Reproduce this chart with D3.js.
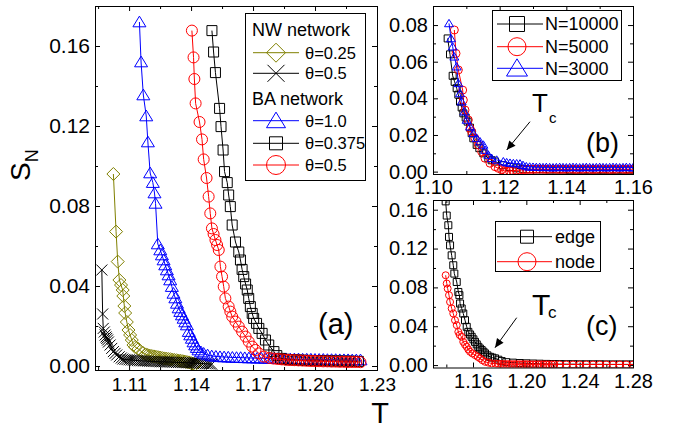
<!DOCTYPE html>
<html><head><meta charset="utf-8">
<script src="https://cdn.jsdelivr.net/npm/d3@7"></script>
<style>
body{margin:0;background:#fff}
svg text{font-family:Arial,"Liberation Sans",Helvetica,sans-serif;fill:#000}
</style>
</head><body>
<svg id="chart" width="673" height="428"></svg>
<script>
// ---------------- DATA ----------------
// Panel (a): NW network
const nw25T = [1.1024,1.1037,1.1045,1.1053,1.1061,1.1069,1.1072,1.1077,1.1081,1.1089,1.1097,1.1105,1.1113,1.1121,1.1129,1.1145,1.1168,1.118,1.119,1.120,1.121,1.122,1.123,1.124,1.125,1.126,1.127,1.128,1.129,1.130,1.131,1.132,1.133,1.134,1.135,1.136,1.137,1.138,1.139,1.140,1.141,1.142];
const nw25S = [0.096,0.0672,0.0522,0.043,0.0405,0.038,0.035,0.030,0.0265,0.022,0.018,0.0155,0.013,0.0105,0.0095,0.0085,0.0065,0.0058,0.0055,0.0052,0.0050,0.0048,0.0046,0.0044,0.0042,0.0040,0.0038,0.0037,0.0035,0.0034,0.0032,0.0030,0.0029,0.0027,0.0026,0.0024,0.0022,0.0020,0.0018,0.0015,0.0012,0.0008];
const nw50T = [1.0968,1.0972,1.0975,1.0980,1.0984,1.0988,1.0992,1.0996,1.1000,1.1008,1.1016,1.1024,1.1032,1.1040,1.1052,1.1062,
  1.107,1.108,1.109,1.110,1.111,1.112,1.113,1.114,1.115,1.116,1.117,1.118,1.119,1.120,1.121,1.122,1.123,1.124,1.125,1.126,1.127,1.128,1.129,1.130,1.131,1.132,1.133,1.134,1.135,1.136,1.137,1.138,1.139,1.140,1.141,1.142,1.143,1.144,1.145,1.146,1.147,1.148,1.149,1.150];
const nw50S = [0.048,0.026,0.0188,0.017,0.0155,0.0145,0.0138,0.013,0.012,0.0105,0.0088,0.0072,0.0063,0.0055,0.0046,0.0040,
  0.0035,0.0033,0.0032,0.0031,0.0030,0.0029,0.0028,0.0027,0.0026,0.0026,0.0025,0.0025,0.0024,0.0024,0.0023,0.0023,0.0022,0.0022,0.0021,0.0021,0.0021,0.0020,0.0020,0.0020,0.0019,0.0019,0.0018,0.0018,0.0018,0.0017,0.0017,0.0016,0.0016,0.0015,0.0015,0.0014,0.0014,0.0013,0.0013,0.0012,0.0011,0.0011,0.0010,0.0009];
// Panel (a): BA network
const ba10T = [1.1150,1.1158,1.1169,1.1183,1.1191,1.1202,1.1215,1.1223,1.1228,1.1239,1.1251,1.1259,1.1267,1.1275,1.1283,1.1291,1.1299,1.1307,1.1315,1.1324,1.1332,1.1340,1.1348,1.1356,1.1364,1.1372,1.1380,1.1389,1.1396,1.1404,1.1412,1.1420,1.1428,1.1436,1.1448,1.1461,
  1.148,1.150,1.152,1.154,1.156,1.158,1.160,1.162,1.164,1.166,1.168,1.170,1.172,1.174,1.176,1.178,1.180,1.182,1.184,1.186,1.188,1.190,1.192,1.194,1.196,1.198,1.200,1.202,1.204,1.206,1.208,1.210,1.212,1.214,1.216,1.218,1.220,1.222];
const ba10S = [0.172,0.152,0.1355,0.125,0.112,0.0965,0.0917,0.0865,0.0813,0.061,0.058,0.0555,0.053,0.0505,0.048,0.0455,0.043,0.0397,0.0363,0.034,0.0313,0.029,0.0272,0.0255,0.0238,0.022,0.0205,0.0172,0.0155,0.0138,0.012,0.0105,0.0092,0.008,0.007,0.0063,
  0.0055,0.0050,0.0048,0.0046,0.0045,0.0044,0.0043,0.0042,0.0042,0.0041,0.0040,0.0040,0.0039,0.0039,0.0038,0.0038,0.0037,0.0037,0.0036,0.0036,0.0035,0.0035,0.0035,0.0034,0.0034,0.0034,0.0033,0.0033,0.0033,0.0032,0.0032,0.0032,0.0031,0.0031,0.0031,0.0030,0.0030,0.0030];
const ba375T = [1.1501,1.1509,1.1518,1.1538,1.1545,1.1555,1.1562,1.1575,1.1582,1.1590,1.1599,1.1615,1.1631,1.1639,1.1647,1.1655,1.1664,1.1672,1.1679,1.1687,1.1696,1.1703,1.1717,1.1728,1.1744,1.1760,1.1776,1.1801,1.1815,1.1833,
  1.185,1.187,1.189,1.191,1.193,1.195,1.197,1.199,1.201,1.203,1.205,1.207,1.209,1.211,1.213,1.215,1.217,1.219,1.221];
const ba375S = [0.1677,0.157,0.1467,0.1288,0.1197,0.108,0.0972,0.0917,0.0855,0.0797,0.0705,0.062,0.057,0.053,0.0483,0.0447,0.041,0.038,0.0338,0.0297,0.0263,0.0238,0.0213,0.0188,0.0163,0.013,0.0105,0.0072,0.0052,0.0038,
  0.0034,0.0032,0.0031,0.0030,0.0029,0.0028,0.0028,0.0027,0.0027,0.0026,0.0026,0.0025,0.0025,0.0025,0.0024,0.0024,0.0024,0.0023,0.0023];
const ba50T = [1.1404,1.1412,1.1416,1.1422,1.1441,1.1453,1.1461,1.1475,1.1485,1.1493,1.1501,1.1509,1.1518,1.1526,1.1534,1.1542,1.1550,1.1558,1.1566,1.1582,1.1590,1.1599,1.1615,1.1631,1.1647,1.1664,1.1679,1.1696,1.1712,1.1728,1.1752,
  1.178,1.180,1.182,1.184,1.186,1.188,1.190,1.192,1.194,1.196,1.198,1.200,1.202,1.204,1.206,1.208,1.210,1.212,1.214,1.216,1.218,1.220,1.222];
const ba50S = [0.1677,0.1543,0.1435,0.1313,0.122,0.1133,0.1033,0.094,0.0847,0.0763,0.0688,0.066,0.063,0.0605,0.058,0.0497,0.0447,0.0397,0.0338,0.0297,0.0272,0.0247,0.0222,0.0197,0.0172,0.0147,0.0122,0.0097,0.008,0.0063,0.0047,
  0.0040,0.0037,0.0035,0.0033,0.0031,0.0030,0.0029,0.0028,0.0027,0.0026,0.0025,0.0025,0.0024,0.0023,0.0023,0.0022,0.0022,0.0021,0.0021,0.0020,0.0020,0.0020,0.0019];

// Panel (b): system sizes
const n10000T = [1.1044,1.1051,1.1059,1.1065,1.1071,1.1076,1.1081,1.1086,1.1091,1.1098,1.1104,1.1111,1.1116,1.1121,1.1131,1.1139,1.1151,1.1166,1.1176,1.1186,
  1.121,1.123,1.125,1.127,1.129,1.131,1.133,1.135,1.137,1.139,1.141,1.143,1.145,1.147,1.149,1.151,1.153,1.155,1.157,1.159];
const n10000S = [0.0727,0.064,0.0523,0.049,0.0455,0.042,0.0382,0.035,0.0318,0.0295,0.0273,0.024,0.021,0.0182,0.0146,0.0128,0.01,0.0073,0.0062,0.0055,
  0.0035,0.0025,0.0018,0.0015,0.0013,0.0012,0.0012,0.0011,0.0011,0.0011,0.0010,0.0010,0.0010,0.0010,0.0010,0.0010,0.0010,0.0010,0.0010,0.0010];
const n5000T = [1.1064,1.1069,1.1076,1.1089,1.1091,1.1096,1.1106,1.1111,1.1116,1.1126,1.1136,1.1146,1.1156,1.1171,1.1186,1.1196,1.1206,1.1214,1.1221,1.1230,
  1.124,1.125,1.126,1.127,1.128,1.129,1.130,1.131,1.132,1.133,1.134,1.135,1.136,1.137,1.138,1.139,1.140,1.141,1.142,1.143,1.144,1.145,1.146,1.147,1.148,1.149,1.150,1.151,1.152,1.153,1.154,1.155,1.156,1.157,1.158,1.159,1.160];
const n5000S = [0.0773,0.0645,0.0555,0.0445,0.0391,0.0336,0.0282,0.0237,0.0218,0.0182,0.0146,0.0109,0.0073,0.0046,0.0027,0.0018,0.0010,0.0004,0.0002,0.0003,
  0.0005,0.0007,0.0009,0.0010,0.0011,0.0012,0.0012,0.0013,0.0013,0.0013,0.0012,0.0013,0.0014,0.0013,0.0012,0.0013,0.0013,0.0014,0.0013,0.0012,0.0013,0.0013,0.0014,0.0013,0.0012,0.0013,0.0013,0.0014,0.0013,0.0012,0.0013,0.0013,0.0014,0.0013,0.0012,0.0013,0.0013];
const n3000T = [1.1048,1.1054,1.1059,1.1064,1.1071,1.1076,1.1081,1.1086,1.1094,1.1101,1.1111,1.1121,1.1131,1.1141,1.1151,1.1156,1.1166,1.1176,1.1191,1.1211,1.1221,1.1231,1.1241,1.1251,1.1261,1.1270,
  1.128,1.129,1.130,1.131,1.132,1.133,1.134,1.135,1.136,1.137,1.138,1.139,1.140,1.141,1.142,1.143,1.144,1.145,1.146,1.147,1.148,1.149,1.150,1.151,1.152,1.153,1.154,1.155,1.156,1.157,1.158,1.159,1.160];
const n3000S = [0.0809,0.0727,0.0682,0.0627,0.0573,0.0482,0.0427,0.0382,0.0327,0.0282,0.0245,0.0209,0.0182,0.0164,0.0146,0.0118,0.0091,0.0073,0.0064,0.0055,0.0050,0.0047,0.0045,0.0044,0.0043,0.0035,
  0.0028,0.0026,0.0025,0.0024,0.0024,0.0023,0.0024,0.0023,0.0022,0.0023,0.0024,0.0023,0.0022,0.0023,0.0024,0.0023,0.0022,0.0023,0.0024,0.0023,0.0022,0.0023,0.0024,0.0023,0.0022,0.0023,0.0024,0.0023,0.0022,0.0023,0.0024,0.0023,0.0022];

// Panel (c): edge vs node
const edgeT = [1.1395,1.1403,1.1415,1.1420,1.1428,1.1440,1.1452,1.1460,1.1478,1.1490,1.1498,1.1503,1.1515,1.1527,1.1540,1.1553,1.1565,1.1578,1.1590,1.1603,1.1615,1.1628,1.1640,1.1652,1.1665,1.1678,1.1690,1.1708,1.1728,1.1745,1.1765,1.1790,1.1815,
  1.185,1.190,1.195,1.200,1.205,1.210,1.215,1.220,1.225,1.230,1.235,1.240,1.245,1.250,1.255,1.260,1.265,1.270,1.275,1.280];
const edgeS = [0.1686,0.154,0.144,0.132,0.1233,0.113,0.1028,0.0942,0.0856,0.0753,0.072,0.0634,0.0583,0.0531,0.0462,0.0394,0.0342,0.0315,0.0291,0.0265,0.0239,0.0213,0.0188,0.017,0.0154,0.0137,0.012,0.010,0.0085,0.0077,0.0069,0.0055,0.0041,
  0.0030,0.0025,0.0021,0.0018,0.0016,0.0014,0.0012,0.0011,0.0010,0.0009,0.0009,0.0008,0.0008,0.0008,0.0008,0.0007,0.0007,0.0007,0.0007,0.0007];
const nodeT = [1.1395,1.1403,1.1410,1.1420,1.1428,1.1440,1.1452,1.1465,1.1478,1.1490,1.1500,1.1515,1.1527,1.1540,1.1553,1.1565,1.1578,1.1595,1.1615,1.1635,1.1653,1.1670,1.1690,1.1715,1.1740,
  1.177,1.179,1.181,1.183,1.185,1.187,1.189,1.191,1.193,1.195,1.197,1.199,1.201,1.203,1.205,1.207,1.209,1.211,1.213,1.215,1.217,1.219,1.221,
  1.225,1.230,1.235,1.240,1.245,1.250,1.255,1.260,1.265,1.270,1.275,1.280];
const nodeS = [0.0925,0.084,0.0788,0.072,0.065,0.0583,0.0531,0.0462,0.0411,0.0342,0.031,0.0291,0.0239,0.021,0.0188,0.016,0.0137,0.012,0.0103,0.0085,0.0069,0.005,0.0034,0.0025,0.0017,
  0.0014,0.0012,0.0011,0.0010,0.0010,0.0009,0.0009,0.0009,0.0008,0.0008,0.0008,0.0008,0.0008,0.0007,0.0007,0.0007,0.0007,0.0007,0.0007,0.0007,0.0006,0.0006,0.0006,
  0.0006,0.0006,0.0006,0.0006,0.0006,0.0006,0.0006,0.0006,0.0006,0.0006,0.0006,0.0006];

// tick values
const aXTicks = [1.11,1.14,1.17,1.20,1.23], aXMinor = [1.095,1.125,1.155,1.185,1.215];
const aYTicks = [0,0.04,0.08,0.12,0.16], aYMinor = [0.02,0.06,0.10,0.14];
const bXTicks = [1.10,1.12,1.14,1.16], bXMinor = [1.11,1.13,1.15];
const bYTicks = [0,0.02,0.04,0.06,0.08], bYMinor = [0.01,0.03,0.05,0.07];
const cXTicks = [1.16,1.20,1.24,1.28], cXMinor = [1.14,1.18,1.22,1.26];
const cYTicks = [0,0.04,0.08,0.12,0.16], cYMinor = [0.02,0.06,0.10,0.14];

const OLIVE = "#808000", BLUE = "#0000ff", RED = "#ff0000", BLACK = "#000000";

// ---------------- DRAWING ----------------
const svg = d3.select("#chart");
const defs = svg.append("defs");
defs.append("marker").attr("id","arrow").attr("viewBox","0 0 10 10").attr("refX",10).attr("refY",5)
  .attr("markerWidth",11).attr("markerHeight",9).attr("markerUnits","userSpaceOnUse").attr("orient","auto")
  .append("path").attr("d","M0,0.5 L10,5 L0,9.5 Z").attr("fill","#000");

function markerPath(type, cx, cy, s){
  const h = s/2;
  switch(type){
    case "sq": return `M${cx-h},${cy-h}H${cx+h}V${cy+h}H${cx-h}Z`;
    case "ci": return `M${cx-h},${cy}a${h},${h} 0 1,0 ${s},0a${h},${h} 0 1,0 ${-s},0Z`;
    case "tri": { const th = s*0.82; return `M${cx},${cy-th*0.55}L${cx+h},${cy+th*0.45}L${cx-h},${cy+th*0.45}Z`; }
    case "di": return `M${cx},${cy-h}L${cx+h},${cy}L${cx},${cy+h}L${cx-h},${cy}Z`;
    case "x": return `M${cx-h},${cy-h}L${cx+h},${cy+h}M${cx+h},${cy-h}L${cx-h},${cy+h}`;
  }
}

function makePanel(p){
  const x = d3.scaleLinear().domain(p.xDomain).range([p.left,p.right]);
  const y = d3.scaleLinear().domain(p.yDomain).range([p.bottom,p.top]);
  const g = svg.append("g");
  const clip = "clip-"+p.name;
  defs.append("clipPath").attr("id",clip).append("rect")
    .attr("x",p.left).attr("y",p.top).attr("width",p.right-p.left).attr("height",p.bottom-p.top);
  const fmt = d3.format(".2f");
  const specs = [
    {gen:()=>d3.axisBottom(x), tr:`translate(0,${p.bottom})`, maj:p.xTicks, min:p.xMinor, lab:true, fs:p.xFont, pad:p.xPad},
    {gen:()=>d3.axisTop(x), tr:`translate(0,${p.top})`, maj:p.xTicks, min:p.xMinor, lab:false},
    {gen:()=>d3.axisLeft(y), tr:`translate(${p.left},0)`, maj:p.yTicks, min:p.yMinor, lab:true, fs:p.yFont, pad:p.yPad},
    {gen:()=>d3.axisRight(y), tr:`translate(${p.right},0)`, maj:p.yTicks, min:p.yMinor, lab:false}
  ];
  specs.forEach(s=>{
    const ga = g.append("g").attr("transform",s.tr)
      .call(s.gen().tickValues(s.maj).tickSizeInner(-5).tickSizeOuter(0).tickPadding(s.pad||3)
        .tickFormat(s.lab ? fmt : ""));
    ga.select(".domain").remove();
    ga.selectAll("line").attr("stroke","#000");
    ga.selectAll("text").style("font-size",(s.fs||20)+"px").attr("fill","#000");
    const gm = g.append("g").attr("transform",s.tr)
      .call(s.gen().tickValues(s.min).tickSizeInner(-3).tickSizeOuter(0).tickFormat(""));
    gm.select(".domain").remove();
    gm.selectAll("line").attr("stroke","#000");
  });
  const data = g.append("g").attr("clip-path",`url(#${clip})`);
  g.append("rect").attr("x",p.left+0.5).attr("y",p.top+0.5)
    .attr("width",p.right-p.left).attr("height",p.bottom-p.top)
    .attr("fill","none").attr("stroke","#000").attr("stroke-width",1);
  return {x,y,g,data};
}

function series(pn, T, S, color, type, size){
  const pts = d3.zip(T,S);
  const gg = pn.data.append("g");
  gg.append("path").datum(pts)
    .attr("d", d3.line().x(d=>pn.x(d[0])).y(d=>pn.y(d[1])))
    .attr("fill","none").attr("stroke",color).attr("stroke-width",1);
  gg.selectAll("path.m").data(pts).join("path").attr("class","m")
    .attr("d", d=>markerPath(type, pn.x(d[0]), pn.y(d[1]), size))
    .attr("fill","none").attr("stroke",color).attr("stroke-width",1);
}

function legendRow(x1, x2, xm, yc, type, size, color, label, tx, fs){
  svg.append("line").attr("x1",x1).attr("x2",x2).attr("y1",yc).attr("y2",yc).attr("stroke",color).attr("stroke-width",1);
  svg.append("path").attr("d",markerPath(type,xm,yc,size)).attr("fill","none").attr("stroke",color).attr("stroke-width",1);
  svg.append("text").attr("x",tx).attr("y",yc+fs*0.36).style("font-size",fs+"px").text(label);
}

// ----- Panel (a)
const A = makePanel({name:"a", left:95, right:377, top:6, bottom:370,
  xDomain:[1.0935,1.23], yDomain:[-0.002,0.18],
  xTicks:aXTicks, xMinor:aXMinor, yTicks:aYTicks, yMinor:aYMinor,
  xFont:19, xPad:8, yFont:21, yPad:5});
series(A, nw25T, nw25S, OLIVE, "di", 13);
series(A, nw50T, nw50S, BLACK, "x", 11);
series(A, ba10T, ba10S, BLUE, "tri", 13);
series(A, ba375T, ba375S, BLACK, "sq", 10);
series(A, ba50T, ba50S, RED, "ci", 11);

svg.append("rect").attr("x",245.5).attr("y",13.5).attr("width",120).attr("height",167)
  .attr("fill","#fff").attr("stroke","#000").attr("stroke-width",1);
svg.append("text").attr("x",252).attr("y",29.3+18*0.36).style("font-size","18px").text("NW network");
legendRow(253,299,276,52.7,"di",19,OLIVE,"θ=0.25",305,16.5);
legendRow(253,299,276,73.3,"x",17,BLACK,"θ=0.5",305,16.5);
svg.append("text").attr("x",252).attr("y",98.3+18*0.36).style("font-size","18px").text("BA network");
legendRow(253,299,276,120.7,"tri",19,BLUE,"θ=1.0",305,16.5);
legendRow(253,299,276,143.3,"sq",13,BLACK,"θ=0.375",305,16.5);
legendRow(253,299,276,165,"ci",19,RED,"θ=0.5",305,16.5);
svg.append("text").attr("x",318).attr("y",334).style("font-size","29px").text("(a)");

// ----- Panel (b)
const B = makePanel({name:"b", left:433, right:633, top:6, bottom:174,
  xDomain:[1.10,1.16], yDomain:[-0.0013,0.0904],
  xTicks:bXTicks, xMinor:bXMinor, yTicks:bYTicks, yMinor:bYMinor,
  xFont:20, xPad:6, yFont:20, yPad:5});
series(B, n10000T, n10000S, BLACK, "sq", 7);
series(B, n5000T, n5000S, RED, "ci", 8);
series(B, n3000T, n3000S, BLUE, "tri", 9);
svg.append("rect").attr("x",492.5).attr("y",10.5).attr("width",129).attr("height",70)
  .attr("fill","#fff").attr("stroke","#000").attr("stroke-width",1);
legendRow(497,543,517,24,"sq",15,BLACK,"N=10000",545,18);
legendRow(497,543,517,46.7,"ci",18,RED,"N=5000",545,18);
legendRow(497,543,517,68.3,"tri",21,BLUE,"N=3000",545,18);
svg.append("text").attr("x",532).attr("y",112).style("font-size","26px").text("T");
svg.append("text").attr("x",549).attr("y",122.7).style("font-size","15px").text("c");
svg.append("line").attr("x1",530).attr("y1",121.7).attr("x2",506.7).attr("y2",150).attr("stroke","#000").attr("stroke-width",1).attr("marker-end","url(#arrow)");
svg.append("text").attr("x",586).attr("y",152).style("font-size","27px").text("(b)");

// ----- Panel (c)
const C = makePanel({name:"c", left:433, right:633, top:200, bottom:367.5,
  xDomain:[1.13,1.28], yDomain:[-0.0025,0.17],
  xTicks:cXTicks, xMinor:cXMinor, yTicks:cYTicks, yMinor:cYMinor,
  xFont:20, xPad:6, yFont:20, yPad:5});
series(C, edgeT, edgeS, BLACK, "sq", 7);
series(C, nodeT, nodeS, RED, "ci", 7);
svg.append("rect").attr("x",495.5).attr("y",221.5).attr("width",105).attr("height",50)
  .attr("fill","#fff").attr("stroke","#000").attr("stroke-width",1);
legendRow(497,552,527,236.7,"sq",13,BLACK,"edge",555,18);
legendRow(497,552,527,261.7,"ci",18,RED,"node",555,18);
svg.append("text").attr("x",532).attr("y",315).style("font-size","30px").text("T");
svg.append("text").attr("x",548).attr("y",318).style("font-size","17px").text("c");
svg.append("line").attr("x1",516.7).attr("y1",317.7).attr("x2",495).attr("y2",347.7).attr("stroke","#000").attr("stroke-width",1).attr("marker-end","url(#arrow)");
svg.append("text").attr("x",586).attr("y",335).style("font-size","27px").text("(c)");

// ----- axis titles
svg.append("text").attr("x",380).attr("y",423).attr("text-anchor","middle").style("font-size","29px").text("T");
const sl = svg.append("text").attr("transform","translate(30,181) rotate(-90)").style("font-size","28px");
sl.append("tspan").text("S");
sl.append("tspan").attr("dy",8).style("font-size","18px").text("N");
</script>
</body></html>
